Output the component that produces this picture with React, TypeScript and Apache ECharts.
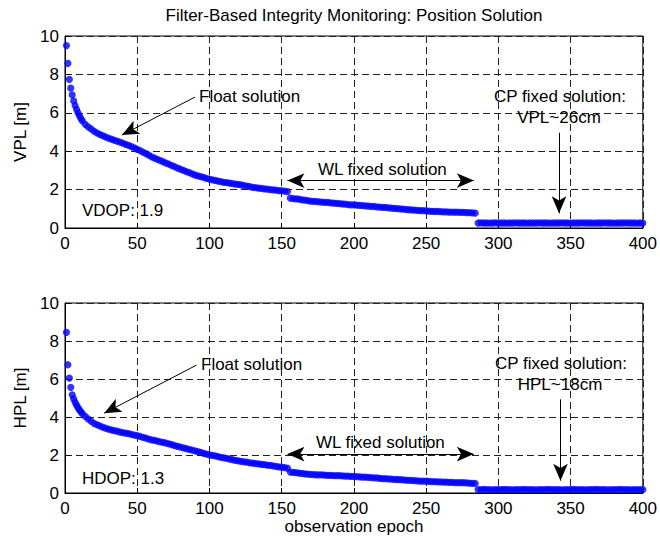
import React, { useEffect, useRef } from "react";
import * as echarts from "echarts";

const epochs = [
  1, 2, 3, 4, 5, 6, 7, 8, 9, 10, 11, 12,
  14, 16, 18, 20, 22, 24, 26, 28, 30, 32, 34, 36, 38, 40, 42, 44, 46, 48, 50,
  52, 54, 56, 58, 60, 62, 64, 66, 68, 70, 72, 74, 76, 78, 80, 82, 84, 86, 88, 90, 92, 94, 96, 98, 100,
  102, 104, 106, 108, 110, 112, 114, 116, 118, 120, 122, 124, 126, 128, 130, 132, 134, 136, 138, 140, 142, 144, 146, 148, 150, 152, 154,
  156, 158, 160, 162, 164, 166, 168, 170, 172, 174, 176, 178, 180, 182, 184, 186, 188, 190, 192, 194, 196, 198, 200,
  202, 204, 206, 208, 210, 212, 214, 216, 218, 220, 222, 224, 226, 228, 230, 232, 234, 236, 238, 240, 242, 244, 246, 248, 250,
  252, 254, 256, 258, 260, 262, 264, 266, 268, 270, 272, 274, 276, 278, 280, 282, 284,
  286, 288, 290, 292, 294, 296, 298, 300, 302, 304, 306, 308, 310, 312, 314, 316, 318, 320, 322, 324, 326, 328, 330, 332, 334, 336, 338, 340,
  342, 344, 346, 348, 350, 352, 354, 356, 358, 360, 362, 364, 366, 368, 370, 372, 374, 376, 378, 380, 382, 384, 386, 388, 390, 392, 394, 396, 398, 400,
];

const vpl = [
  9.5, 8.58, 7.74, 7.28, 6.93, 6.62, 6.38, 6.18, 6.0, 5.84, 5.7, 5.58,
  5.4, 5.27, 5.16, 5.05, 4.96, 4.88, 4.81, 4.74, 4.68, 4.63, 4.57, 4.52, 4.47, 4.42, 4.36, 4.3, 4.24, 4.17, 4.1,
  4.03, 3.95, 3.87, 3.79, 3.71, 3.64, 3.58, 3.51, 3.45, 3.38, 3.32, 3.25, 3.19, 3.12, 3.06, 3.0, 2.94, 2.88, 2.82, 2.76, 2.71, 2.67, 2.63, 2.59, 2.55,
  2.51, 2.48, 2.44, 2.41, 2.38, 2.36, 2.34, 2.31, 2.29, 2.27, 2.24, 2.21, 2.18, 2.15, 2.12, 2.1, 2.08, 2.06, 2.04, 2.02, 2.0, 1.98, 1.97, 1.95, 1.94, 1.92, 1.9,
  1.55, 1.53, 1.52, 1.5, 1.47, 1.45, 1.42, 1.4, 1.39, 1.38, 1.36, 1.35, 1.34, 1.33, 1.31, 1.29, 1.28, 1.27, 1.25, 1.24, 1.22, 1.21, 1.2,
  1.19, 1.18, 1.17, 1.15, 1.14, 1.13, 1.12, 1.1, 1.09, 1.08, 1.07, 1.05, 1.04, 1.02, 1.01, 1.0, 0.98, 0.97, 0.95, 0.94, 0.93, 0.92, 0.91, 0.9, 0.89,
  0.88, 0.87, 0.86, 0.86, 0.85, 0.84, 0.84, 0.83, 0.83, 0.82, 0.82, 0.81, 0.81, 0.8, 0.8, 0.79, 0.78,
  0.26, 0.27, 0.26, 0.26, 0.25, 0.26, 0.27, 0.26, 0.26, 0.26, 0.25, 0.26, 0.26, 0.27, 0.26, 0.26, 0.26, 0.25, 0.26, 0.26, 0.26, 0.27, 0.26, 0.26, 0.26, 0.25, 0.26, 0.26,
  0.26, 0.27, 0.26, 0.26, 0.25, 0.26, 0.26, 0.26, 0.27, 0.26, 0.26, 0.26, 0.25, 0.26, 0.26, 0.26, 0.27, 0.26, 0.26, 0.25, 0.26, 0.26, 0.26, 0.27, 0.26, 0.26, 0.26, 0.25, 0.26, 0.26,
];

const hpl = [
  8.45, 6.75, 6.05, 5.56, 5.17, 4.95, 4.77, 4.62, 4.49, 4.37, 4.27, 4.18,
  4.03, 3.9, 3.78, 3.67, 3.6, 3.53, 3.47, 3.41, 3.36, 3.32, 3.28, 3.25, 3.21, 3.18, 3.15, 3.12, 3.08, 3.05, 3.02,
  2.98, 2.93, 2.89, 2.84, 2.8, 2.77, 2.73, 2.69, 2.66, 2.62, 2.58, 2.54, 2.49, 2.45, 2.41, 2.37, 2.33, 2.3, 2.26, 2.22, 2.18, 2.14, 2.09, 2.05, 2.01,
  1.98, 1.95, 1.91, 1.88, 1.85, 1.82, 1.78, 1.75, 1.72, 1.69, 1.67, 1.64, 1.62, 1.59, 1.57, 1.55, 1.53, 1.51, 1.49, 1.47, 1.45, 1.43, 1.4, 1.38, 1.36, 1.34, 1.31,
  1.1, 1.08, 1.07, 1.05, 1.03, 1.01, 0.99, 0.98, 0.97, 0.96, 0.95, 0.95, 0.94, 0.93, 0.93, 0.92, 0.91, 0.91, 0.9, 0.89, 0.89, 0.88, 0.87,
  0.86, 0.85, 0.84, 0.83, 0.82, 0.81, 0.8, 0.79, 0.77, 0.76, 0.75, 0.74, 0.73, 0.72, 0.71, 0.7, 0.69, 0.68, 0.67, 0.66, 0.65, 0.64, 0.63, 0.63, 0.62,
  0.61, 0.6, 0.6, 0.59, 0.58, 0.57, 0.57, 0.56, 0.56, 0.55, 0.55, 0.54, 0.54, 0.53, 0.52, 0.51, 0.5,
  0.18, 0.18, 0.19, 0.18, 0.18, 0.17, 0.18, 0.18, 0.18, 0.19, 0.18, 0.18, 0.17, 0.18, 0.18, 0.18, 0.19, 0.18, 0.18, 0.18, 0.17, 0.18, 0.18, 0.18, 0.19, 0.18, 0.18, 0.18,
  0.18, 0.17, 0.18, 0.18, 0.18, 0.19, 0.18, 0.18, 0.18, 0.17, 0.18, 0.18, 0.18, 0.19, 0.18, 0.18, 0.18, 0.17, 0.18, 0.18, 0.18, 0.19, 0.18, 0.18, 0.18, 0.17, 0.18, 0.18, 0.18, 0.18,
];

// annotation arrows in data coordinates: [x1, y1, x2, y2]
const vplFloatArrow = [90, 6.82, 39.4, 4.84];
const vplWlArrow = [154, 2.47, 283, 2.47];
const vplCpArrow = [342, 4.96, 342, 0.77];
const hplFloatArrow = [91, 6.73, 27.1, 4.2];
const hplWlArrow = [154, 2.05, 283, 2.05];
const hplCpArrow = [343, 4.93, 343, 0.65];

const FONT = '"Liberation Sans", Arial, Helvetica, sans-serif';
const FS = 17;

function arrowLine(a: number[], both: boolean) {
  return [
    { coord: [a[0], a[1]], symbol: both ? "arrow" : "none", symbolSize: [11, 17] },
    { coord: [a[2], a[3]], symbol: "arrow", symbolSize: [11, 17] },
  ];
}

function txt(text: string, x: number, y: number, align: string) {
  return {
    type: "text",
    x,
    y,
    z: 100,
    silent: true,
    style: {
      text,
      fill: "#000",
      font: `${FS}px ${FONT}`,
      textAlign: align,
      textVerticalAlign: "middle",
      align,
      verticalAlign: "middle",
    },
  };
}

export default function App() {
  const ref = useRef<HTMLDivElement>(null);
  useEffect(() => {
    if (!ref.current) return;
    const chart = echarts.init(ref.current, null, { renderer: "svg" });
    const grids = [
      { left: 65, top: 36, width: 579, height: 192 },
      { left: 65, top: 303, width: 579, height: 190 },
    ];
    const axisCommon = {
      axisLine: { show: true, onZero: false, lineStyle: { color: "#000", width: 1 } },
      axisTick: { show: true, inside: true, length: 5, lineStyle: { color: "#000" } },
      splitLine: { show: true, lineStyle: { color: "#222", width: 1, type: [7, 4] } },
    };
    const markLineCommon = {
      silent: true,
      animation: false,
      label: { show: false },
      lineStyle: { color: "#000", width: 1, type: "solid" },
      itemStyle: { color: "#000" },
      emphasis: { disabled: true },
    };
    const option: any = {
      animation: false,
      backgroundColor: "#fff",
      grid: grids.map((g) => ({
        ...g,
        show: true,
        borderColor: "#000",
        borderWidth: 1,
        backgroundColor: "#fff",
      })),
      xAxis: [0, 1].map((i) => ({
        type: "value",
        gridIndex: i,
        min: 0,
        max: 400,
        interval: 50,
        ...axisCommon,
        axisLabel: { color: "#000", fontSize: FS, fontFamily: FONT, margin: 7 },
        name: i === 1 ? "observation epoch" : "",
        nameLocation: "middle",
        nameGap: 25,
        nameTextStyle: { color: "#000", fontSize: FS, fontFamily: FONT },
      })),
      yAxis: [0, 1].map((i) => ({
        type: "value",
        gridIndex: i,
        min: 0,
        max: 10,
        interval: 2,
        ...axisCommon,
        axisLabel: { color: "#000", fontSize: FS, fontFamily: FONT, margin: 6 },
        name: i === 0 ? "VPL [m]" : "HPL [m]",
        nameLocation: "middle",
        nameGap: 36,
        nameTextStyle: { color: "#000", fontSize: FS, fontFamily: FONT },
      })),
      series: [
        {
          type: "scatter",
          xAxisIndex: 0,
          yAxisIndex: 0,
          symbol: "circle",
          symbolSize: 7.2,
          clip: false,
          itemStyle: { color: "#0000ff" },
          data: epochs.map((e, i) => [e, vpl[i]]),
          markLine: {
            ...markLineCommon,
            data: [
              arrowLine(vplFloatArrow, false),
              arrowLine(vplWlArrow, true),
              arrowLine(vplCpArrow, false),
            ],
          },
        },
        {
          type: "scatter",
          xAxisIndex: 1,
          yAxisIndex: 1,
          symbol: "circle",
          symbolSize: 7.2,
          clip: false,
          itemStyle: { color: "#0000ff" },
          data: epochs.map((e, i) => [e, hpl[i]]),
          markLine: {
            ...markLineCommon,
            data: [
              arrowLine(hplFloatArrow, false),
              arrowLine(hplWlArrow, true),
              arrowLine(hplCpArrow, false),
            ],
          },
        },
      ],
      graphic: [
        txt("Filter-Based Integrity Monitoring: Position Solution", 354, 15, "center"),
        txt("Float solution", 199, 96, "left"),
        txt("WL fixed solution", 318, 169, "left"),
        txt("CP fixed solution:", 560, 96, "center"),
        txt("VPL~26cm", 559, 117, "center"),
        txt("VDOP: 1.9", 82, 210, "left"),
        txt("Float solution", 201, 364, "left"),
        txt("WL fixed solution", 316, 442, "left"),
        txt("CP fixed solution:", 561, 363, "center"),
        txt("HPL~18cm", 560, 384, "center"),
        txt("HDOP: 1.3", 82, 478, "left"),
      ],
    };
    chart.setOption(option);
    return () => chart.dispose();
  }, []);
  return (
    <div
      ref={ref}
      style={{ position: "fixed", left: 0, top: 0, width: 660, height: 540, background: "#fff" }}
    />
  );
}
